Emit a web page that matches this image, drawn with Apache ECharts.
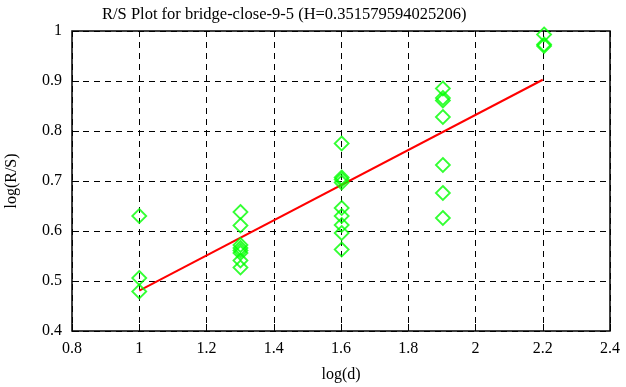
<!DOCTYPE html>
<html><head><meta charset="utf-8">
<script src="https://cdn.jsdelivr.net/npm/echarts@6/dist/echarts.min.js"></script>
<style>html,body{margin:0;padding:0;background:#fff}#c{width:626px;height:387px}</style>
</head><body><div id="c"></div>
<script>
var titleText = 'R/S Plot for bridge-close-9-5 (H=0.351579594025206)';
var xName = 'log(d)';
var yName = 'log(R/S)';
var xValues = [1.0, 1.301, 1.602, 1.903, 2.204];
var ySets = [
  [0.630, 0.506, 0.479],
  [0.638, 0.611, 0.572, 0.566, 0.561, 0.556, 0.541, 0.527],
  [0.775, 0.707, 0.703, 0.697, 0.646, 0.630, 0.612, 0.596, 0.563],
  [0.885, 0.866, 0.861, 0.828, 0.732, 0.676, 0.626],
  [0.993, 0.973, 0.970]
];
var fitX = [1.0, 2.2];
var fitY = [0.4806, 0.9025];

var points = [];
xValues.forEach(function (x, i) { ySets[i].forEach(function (y) { points.push([x, y]); }); });
var fitLine = fitX.map(function (x, i) { return [x, fitY[i]]; });

var font = 'Liberation Serif';
var chart = echarts.init(document.getElementById('c'));
chart.setOption({
  animation: false,
  title: { text: titleText, left: 97, top: 1, textStyle: { fontFamily: font, fontSize: 16.5, fontWeight: 'normal', color: '#000' } },
  grid: { left: 72, right: 16, top: 31, bottom: 56, show: true, borderColor: '#000', borderWidth: 1.5, containLabel: false, outerBoundsMode: 'none' },
  xAxis: {
    type: 'value', min: 0.8, max: 2.4, interval: 0.2,
    name: xName, nameLocation: 'middle', nameGap: 36,
    nameTextStyle: { fontFamily: font, fontSize: 16, color: '#000' },
    axisLine: { show: false },
    axisTick: { show: true, inside: true, length: 7, lineStyle: { color: '#000' } },
    axisLabel: { fontFamily: font, fontSize: 16, color: '#000', margin: 10, formatter: function (v) { return +v.toFixed(1) + ''; } },
    splitLine: { show: true, lineStyle: { color: '#000', type: [6, 5], width: 1 } }
  },
  yAxis: {
    type: 'value', min: 0.4, max: 1.0, interval: 0.1,
    name: yName, nameLocation: 'middle', nameGap: 52,
    nameTextStyle: { fontFamily: font, fontSize: 16, color: '#000' },
    axisLine: { show: false },
    axisTick: { show: true, inside: true, length: 7, lineStyle: { color: '#000' } },
    axisLabel: { fontFamily: font, fontSize: 16, color: '#000', margin: 10, formatter: function (v) { return +v.toFixed(1) + ''; } },
    splitLine: { show: true, lineStyle: { color: '#000', type: [6, 5], width: 1 } }
  },
  series: [
    { type: 'line', data: fitLine, symbol: 'none', lineStyle: { color: '#ff0000', width: 2 }, z: 3 },
    { type: 'scatter', data: points, symbol: 'diamond', symbolSize: 14,
      itemStyle: { color: 'rgba(0,0,0,0)', borderColor: '#00ff00', borderWidth: 1.8 }, z: 4 }
  ]
});
</script></body></html>
